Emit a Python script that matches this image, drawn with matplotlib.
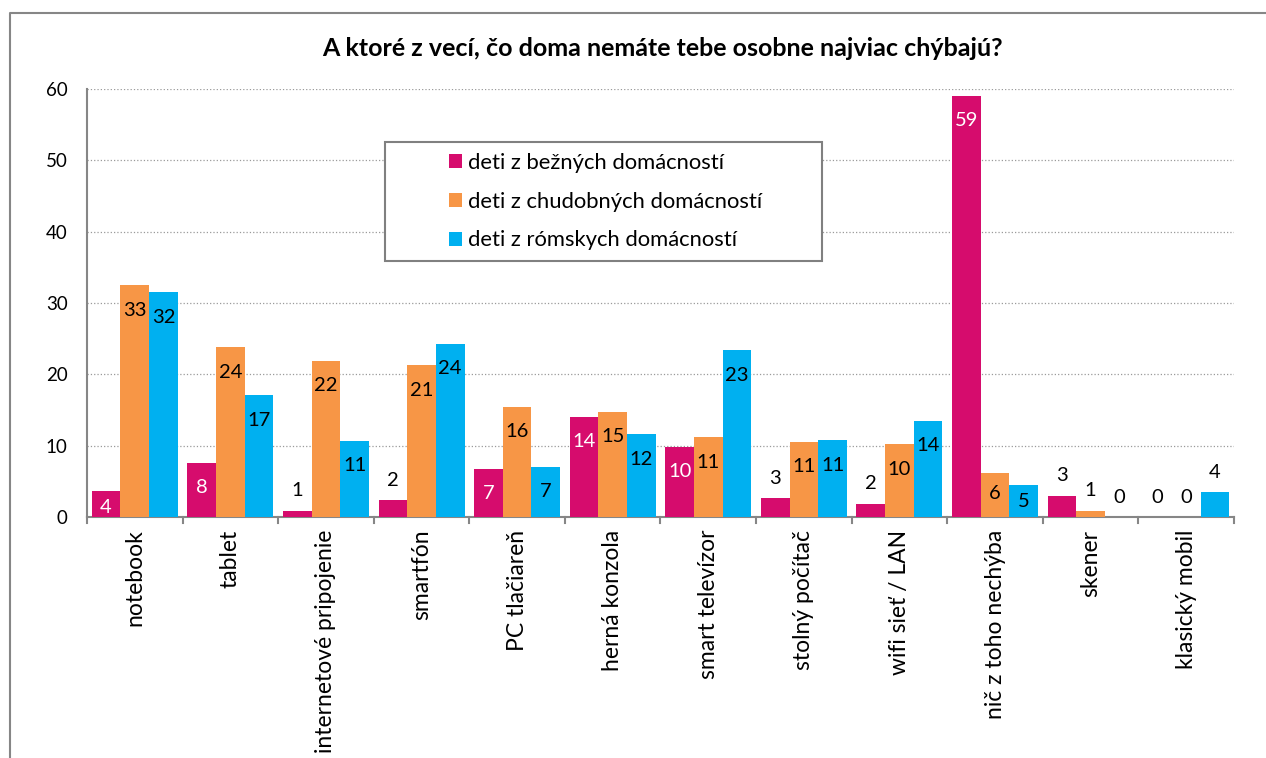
import numpy as np
import matplotlib
matplotlib.use('Agg')
import matplotlib.pyplot as plt
from matplotlib.patches import Rectangle
from matplotlib.lines import Line2D

categories = ['notebook', 'tablet', 'internetové pripojenie', 'smartfón',
              'PC tlačiareň', 'herná konzola', 'smart televízor',
              'stolný počítač', 'wifi sieť / LAN', 'nič z toho nechýba',
              'skener', 'klasický mobil']
series_names = ['deti z bežných domácností',
                'deti z chudobných domácností',
                'deti z rómskych domácností']
bezne = [3.6, 7.6, 0.9, 2.4, 6.7, 14.1, 9.9, 2.65, 1.9, 59.0, 3.0, 0]
chudobne = [32.5, 23.8, 21.9, 21.3, 15.5, 14.8, 11.2, 10.6, 10.2, 6.2, 0.9, 0]
romske = [31.5, 17.1, 10.7, 24.3, 7.1, 11.6, 23.4, 10.8, 13.5, 4.5, 0, 3.5]
colors = ['#D60C6D', '#F79646', '#00B0F0']

W, H = 1266, 758
plt.rcParams['font.family'] = ['Lato', 'DejaVu Sans']

fig = plt.figure(figsize=(W / 100, H / 100), dpi=100)
ax = fig.add_axes([87 / W, 1 - 517.2 / H, (1234 - 87) / W, (517.2 - 88.8) / H])

x = np.arange(len(categories))
bw = 0.3
px_per_unit = (517.2 - 88.8) / 60
for i, (vals, name, col) in enumerate(zip([bezne, chudobne, romske], series_names, colors)):
    xs = x + (i - 1) * bw
    ax.bar(xs, vals, width=bw, color=col, label=name, zorder=3)
    # data labels: small bars get the label above, others inside the top
    for xi, v in zip(xs, vals):
        h = v * px_per_unit
        if v < 3.55:
            dy, tc = 20, 'black'
        else:
            dy = max(h - 25, min(24, h - 16)) - h
            tc = 'white' if i == 0 else 'black'
        ax.annotate(f'{int(v + 0.5)}', (xi, v), xytext=(0, dy),
                    textcoords='offset pixels', ha='center', va='center',
                    fontsize=14.5, color=tc, zorder=4)

ax.set_xlim(-0.5, len(categories) - 0.5)
ax.set_ylim(0, 60)
ax.set_yticks(range(0, 61, 10))
ax.yaxis.grid(True, linestyle=':', color='#9A9A9A', linewidth=0.9, zorder=0)
ax.set_axisbelow(True)
ax.tick_params(axis='y', length=0, labelsize=13.5, pad=14)

ax.set_xticks(x)
ax.set_xticklabels(categories, rotation=90, fontsize=16.5)
ax.tick_params(axis='x', length=0, pad=9)
for b in np.arange(-0.5, len(categories), 1):
    ax.plot([b, b], [0, -6 / px_per_unit], color='#868686', lw=1.5, clip_on=False, zorder=2)

for s in ['top', 'right']:
    ax.spines[s].set_visible(False)
for s in ['left', 'bottom']:
    ax.spines[s].set_color('#868686')
    ax.spines[s].set_linewidth(1.5)

fig.text(662 / W, 1 - 48 / H, 'A ktoré z vecí, čo doma nemáte tebe osobne najviac chýbajú?',
         ha='center', va='center', fontsize=18, fontweight='bold')

# legend box
box = Rectangle((385 / W, 1 - 260.7 / H), (821.7 - 385) / W, (260.7 - 141.7) / H,
                transform=fig.transFigure, facecolor='white', edgecolor='#808080',
                lw=1.5, zorder=5, clip_on=False)
ax.add_patch(box)
leg = ax.legend(loc='center left', bbox_to_anchor=(449 / W, 1 - 201.8 / H),
                bbox_transform=fig.transFigure, frameon=False, fontsize=15.8,
                borderpad=0, borderaxespad=0, handlelength=0.6, handleheight=0.6,
                handletextpad=0.28, labelspacing=0.85)
leg.set_zorder(6)

# outer chart frame
fig.add_artist(Line2D([10 / W, 10 / W, 1.2], [-0.2, 1 - 12.5 / H, 1 - 12.5 / H],
                      transform=fig.transFigure, color='#868686', lw=1.5))

fig.savefig('out.png', dpi=100)
